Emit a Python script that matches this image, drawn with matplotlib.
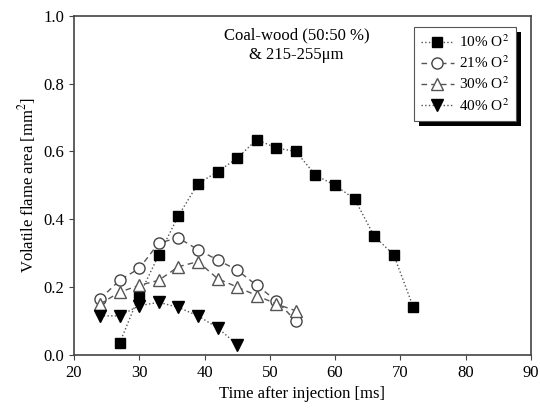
import numpy as np
import matplotlib.pyplot as plt
from matplotlib.patches import Rectangle

plt.rcParams['font.family'] = ['Liberation Serif', 'DejaVu Serif']
plt.rcParams['mathtext.fontset'] = 'stix'

t10 = [27, 30, 33, 36, 39, 42, 45, 48, 51, 54, 57, 60, 63, 66, 69, 72]
a10 = [0.035, 0.175, 0.295, 0.41, 0.505, 0.54, 0.58, 0.635, 0.61, 0.60, 0.53, 0.50, 0.46, 0.35, 0.295, 0.14]

t21 = [24, 27, 30, 33, 36, 39, 42, 45, 48, 51, 54]
a21 = [0.165, 0.22, 0.255, 0.33, 0.345, 0.31, 0.28, 0.25, 0.205, 0.16, 0.10]

t30 = [24, 27, 30, 33, 36, 39, 42, 45, 48, 51, 54]
a30 = [0.15, 0.185, 0.205, 0.22, 0.26, 0.275, 0.225, 0.20, 0.175, 0.15, 0.13]

t40 = [24, 27, 30, 33, 36, 39, 42, 45]
a40 = [0.115, 0.115, 0.145, 0.155, 0.14, 0.115, 0.08, 0.03]

fig = plt.figure(figsize=(5.4, 4.16), dpi=100)
ax = fig.add_axes([0.137, 0.147, 0.846, 0.815])

ax.plot(t10, a10, linestyle=':', color='#555555', lw=1, marker='s', ms=7,
        mfc='black', mec='black', label='10% O$^2$')
ax.plot(t21, a21, linestyle=(0, (4, 3)), color='#555555', lw=1, marker='o', ms=8,
        mfc='white', mec='#444444', label='21% O$^2$')
ax.plot(t30, a30, linestyle=(0, (4, 3)), color='#555555', lw=1, marker='^', ms=9,
        mfc='white', mec='#555555', label='30% O$^2$')
ax.plot(t40, a40, linestyle=':', color='#555555', lw=1, marker='v', ms=9,
        mfc='black', mec='black', label='40% O$^2$')

ax.set_xlim(20, 90)
ax.set_ylim(0, 1.0)
ax.set_xticks(np.arange(20, 91, 10))
ax.set_yticks(np.arange(0, 1.01, 0.2))
ax.set_yticklabels(['0.0', '0.2', '0.4', '0.6', '0.8', '1.0'])
ax.tick_params(direction='out', labelsize=12, color='#444444')
for s in ax.spines.values():
    s.set_color('#444444')
    s.set_linewidth(1.2)

ax.set_xlabel('Time after injection [ms]', fontsize=12)
ax.set_ylabel('Volatile flame area [mm$^2$]', fontsize=12)

ax.text(54.1, 0.912, 'Coal-wood (50:50 %)\n& 215-255\u03bcm', ha='center', va='center',
        fontsize=12, linespacing=1.3)

leg = ax.legend(loc='upper right', bbox_to_anchor=(0.967, 0.968), fancybox=False,
                fontsize=11, handlelength=2.2, handletextpad=0.3,
                borderpad=0.45, labelspacing=0.3, borderaxespad=0)
leg.get_frame().set_edgecolor('#555555')
leg.get_frame().set_linewidth(0.8)
leg.get_frame().set_alpha(1)

# black offset shadow behind the legend box
fig.canvas.draw()
bb = leg.get_window_extent().transformed(ax.transAxes.inverted())
dx = 5 / (ax.bbox.width)
dy = 5 / (ax.bbox.height)
ax.add_patch(Rectangle((bb.x0 + dx, bb.y0 - dy), bb.width, bb.height,
                       transform=ax.transAxes, facecolor='black', edgecolor='none',
                       zorder=4.9, clip_on=False))

fig.savefig('out.png', dpi=100)
